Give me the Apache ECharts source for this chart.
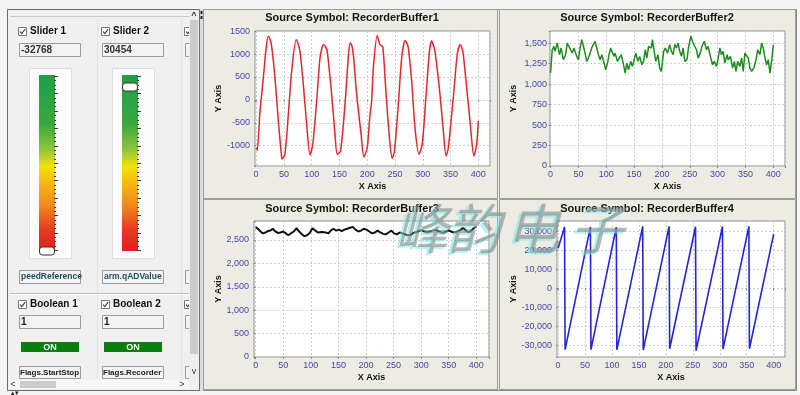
<!DOCTYPE html>
<html><head><meta charset="utf-8">
<script src="https://cdn.jsdelivr.net/npm/echarts@6/dist/echarts.min.js"></script>
<style>html,body{margin:0;padding:0;background:#f4f4f4}#c{width:800px;height:395px}</style>
</head><body><div id="c"></div>
<script>
// ---------------- DATA ----------------
const chartTitles = ['Source Symbol: RecorderBuffer1','Source Symbol: RecorderBuffer2','Source Symbol: RecorderBuffer3','Source Symbol: RecorderBuffer4'];
const xTickStep = 50;
const yTickSteps = [500, 250, 500, 10000];

const buffer1 = [[0,-1050],[2,-1100],[7,-247],[13,479],[18,1133],[22,1388],[25,1330],[28,1170],[34,479],[40,-465],[46,-1264],[47,-1290],[52,-1176],[58,-319],[64,625],[72,1314],[75,1250],[79,1060],[85,334],[91,-537],[97,-1206],[102,-973],[109,-29],[115,915],[121,1205],[124,1180],[128,1060],[136,116],[142,-755],[146,-1191],[152,-1118],[160,-101],[165,770],[169,1242],[172,1200],[175,988],[181,116],[189,-755],[194,-1249],[200,-1046],[205,-319],[208,-29],[211,697],[218,1409],[223,1205],[228,1160],[234,116],[240,-828],[245,-1279],[249,-1126],[256,-101],[262,915],[268,1293],[271,1250],[274,1133],[280,407],[286,-610],[293,-1191],[299,-973],[306,116],[312,1060],[316,1293],[319,1200],[322,1060],[331,116],[337,-682],[342,-1227],[346,-1046],[352,-319],[356,189],[362,988],[367,1205],[370,1150],[373,988],[379,261],[385,-465],[392,-1227],[397,-973],[400,-465]];

const buffer2 = [[0,1136],[3,1421],[6,1463],[8,1401],[12,1503],[16,1360],[19,1442],[23,1299],[27,1360],[30,1503],[33,1463],[36,1421],[39,1380],[42,1442],[47,1340],[50,1299],[53,1442],[56,1544],[59,1463],[62,1380],[65,1279],[68,1320],[71,1380],[75,1463],[80,1524],[83,1442],[86,1360],[89,1299],[92,1360],[97,1238],[99,1176],[103,1279],[105,1360],[108,1442],[110,1401],[114,1340],[116,1380],[120,1279],[123,1299],[127,1360],[131,1238],[134,1136],[137,1258],[140,1176],[144,1279],[147,1217],[151,1320],[153,1380],[157,1279],[160,1340],[164,1238],[167,1279],[170,1421],[173,1320],[176,1463],[181,1442],[183,1544],[186,1401],[189,1279],[193,1360],[196,1197],[199,1156],[203,1401],[206,1442],[210,1380],[214,1483],[217,1401],[220,1360],[223,1483],[226,1442],[229,1503],[232,1401],[235,1340],[238,1442],[241,1279],[245,1299],[248,1463],[252,1585],[256,1503],[259,1524],[262,1421],[265,1320],[269,1380],[272,1463],[276,1524],[280,1421],[283,1463],[287,1340],[291,1238],[294,1279],[298,1217],[301,1320],[304,1442],[307,1360],[310,1401],[313,1258],[317,1360],[319,1299],[323,1340],[327,1197],[330,1279],[333,1156],[336,1279],[340,1217],[343,1320],[346,1156],[349,1380],[352,1401],[355,1320],[358,1197],[361,1156],[365,1197],[369,1299],[372,1421],[376,1360],[379,1503],[382,1442],[385,1320],[388,1238],[391,1299],[394,1136],[397,1279],[400,1480]];

const buffer3 = [[0,2773],[4,2740],[9,2680],[13,2640],[18,2660],[22,2690],[27,2700],[31,2740],[35,2690],[40,2650],[45,2660],[50,2680],[55,2640],[59,2600],[64,2640],[69,2680],[74,2750],[79,2680],[84,2620],[88,2580],[93,2600],[98,2650],[103,2750],[108,2700],[113,2660],[120,2670],[127,2660],[132,2640],[136,2700],[141,2740],[146,2700],[151,2720],[156,2690],[161,2720],[166,2740],[171,2760],[176,2780],[181,2720],[186,2680],[191,2700],[196,2740],[201,2720],[206,2680],[211,2640],[216,2660],[221,2700],[226,2660],[231,2630],[236,2620],[241,2660],[246,2700],[251,2640],[256,2620],[261,2660],[266,2640],[271,2620],[276,2600],[281,2610],[286,2650],[291,2670],[296,2690],[301,2710],[306,2680],[311,2660],[316,2680],[321,2700],[326,2720],[331,2690],[336,2660],[341,2650],[346,2690],[351,2700],[356,2670],[361,2660],[366,2680],[371,2710],[376,2760],[381,2700],[386,2660],[391,2700],[396,2760],[400,2790]];

const buffer4 = [[0,21000],[12,32100],[13,-32300],[60,32200],[61,-32300],[108,32100],[109,-32400],[157,32500],[158,-32500],[206,32500],[207,-31800],[255,32300],[256,-32800],[305,32400],[306,-32000],[354,32500],[355,-31800],[400,28400]];

// left panel widgets
const sliderNames = ['Slider 1','Slider 2'];
const sliderValues = [-32768, 30454];
const sliderSymbols = ['peedReference','arm.qADValue'];
const boolNames = ['Boolean 1','Boolean 2'];
const boolValues = ['1','1'];
const boolStates = ['ON','ON'];
const boolSymbols = ['Flags.StartStop','Flags.Recorder'];
const watermarkChars = ['峰','韵','电','子'];

// ---------------- LAYOUT ----------------
const FONT = '"Liberation Sans", Arial, sans-serif';
const grids = [
  {left:255, top:31, width:235, height:135},
  {left:550, top:31, width:235, height:135},
  {left:254, top:221, width:235, height:136},
  {left:557, top:221, width:228, height:136}
];
const xRanges = [[-2,421],[-1,421],[-3,423],[-2,421]];
const yRanges = [[-1445,1505],[0,1650],[0,2905],[-36150,35300]];
const yCommas = [false,true,true,true];
const yNameGaps = [31,32,30,38];
const yLabelMargins = [5,3,5,5];
const titlePos = [[352,18],[647,18],[352,209],[647,209]];
const lineColors = ['#e3262b','#1f8c1f','#111111','#2424e0'];
const lineWidths = [1.5,1.5,2,1.6];
const seriesData = [buffer1, buffer2, buffer3, buffer4];
const watermarkX = [422, 474, 533, 597];

function fmt(v, step, commas){
  if (Math.abs(v % step) > 1e-9) return '';
  return commas ? echarts.format.addCommas(v) : String(v);
}

const grid = grids.map(g => Object.assign({show:true, backgroundColor:'#ffffff', borderColor:'#8c8c8c', borderWidth:1, containLabel:false, outerBoundsMode:'none', z:5}, g));
const labelColor = '#4646aa';
const xAxis = grids.map((g,i) => ({
  gridIndex:i, type:'value', min:xRanges[i][0], max:xRanges[i][1],
  minInterval:xTickStep, maxInterval:xTickStep, z:5,
  axisLine:{show:false}, axisTick:{show:true, length:2, lineStyle:{color:'#888'}},
  axisLabel:{color:labelColor, fontSize:9, fontFamily:FONT, margin:4, formatter:v=>fmt(v,xTickStep,false)},
  splitLine:{show:true, lineStyle:{color:'#cdcdcd', type:[2,2], width:1}},
  name:'X Axis', nameLocation:'middle', nameGap:16,
  nameTextStyle:{fontWeight:'bold', fontSize:9, color:'#111', fontFamily:FONT}
}));
const yAxis = grids.map((g,i) => ({
  gridIndex:i, type:'value', min:yRanges[i][0], max:yRanges[i][1],
  minInterval:yTickSteps[i], maxInterval:yTickSteps[i], z:5,
  axisLine:{show:false}, axisTick:{show:true, length:2, lineStyle:{color:'#888'}},
  axisLabel:{color:labelColor, fontSize:9, fontFamily:FONT, margin:yLabelMargins[i], formatter:v=>fmt(v,yTickSteps[i],yCommas[i])},
  splitLine:{show:true, lineStyle:{color:'#cdcdcd', type:[2,2], width:1}},
  name:'Y Axis', nameLocation:'middle', nameGap:yNameGaps[i],
  nameTextStyle:{fontWeight:'bold', fontSize:9, color:'#111', fontFamily:FONT}
}));
const series = seriesData.map((d,i) => ({
  type:'line', xAxisIndex:i, yAxisIndex:i, data:d, symbol:'none', showSymbol:false,
  smooth: i===0 ? 0.25 : false, z:6,
  lineStyle:{color:lineColors[i], width:lineWidths[i]}, animation:false
}));

// ---------------- GRAPHIC (UI chrome) ----------------
const G = [];
function rect(x,y,w,h,fill,stroke,z,r){ G.push({type:'rect', silent:true, z:z||1, shape:{x:x,y:y,width:w,height:h,r:r||0}, style:{fill:fill||'none', stroke:stroke||null, lineWidth:1}}); }
function line(x1,y1,x2,y2,stroke,z,w){ G.push({type:'line', silent:true, z:z||1, shape:{x1:x1,y1:y1,x2:x2,y2:y2}, style:{stroke:stroke, lineWidth:w||1}}); }
function text(x,y,t,font,fill,align,z,extra){ G.push({type:'text', silent:true, z:z||2, style:Object.assign({text:t, x:x, y:y, font:font, fill:fill, textAlign:align||'left', textVerticalAlign:'middle', verticalAlign:'middle'}, extra||{})}); }
function checkbox(x,y){ rect(x+0.5,y+0.5,8,8,'#ffffff','#7a7a7a',2); G.push({type:'polyline', silent:true, z:3, shape:{points:[[x+2,y+4.5],[x+3.8,y+6.6],[x+7.2,y+2]]}, style:{stroke:'#333', lineWidth:1.1, fill:'none'}}); }

// backgrounds
rect(0,0,800,395,'#f4f4f4',null,0);
rect(7.5,9.5,192,381,'#f0f0f0','#6a6a6a',0);
line(10,16.5,190,16.5,'#c8c8c8',1);
// chart area
rect(203.5,9.5,593,381,'#edece4','#8a8a8a',0);
rect(203.5,9.5,294,189,'#edece4','#9c9c9c',1);
rect(499.5,9.5,296,189,'#edece4','#9c9c9c',1);
rect(203.5,199.5,294,190,'#edece4','#9c9c9c',1);
rect(499.5,199.5,296,190,'#edece4','#9c9c9c',1);
// splitter
rect(200,9,3,382,'#dcdcdc',null,1);
rect(200.5,11,2,3,'#222',null,2);
rect(200.5,16,2,3,'#222',null,2);

// column separators
line(97.5,20,97.5,378,'#e2e2e2',1);
line(181.5,20,181.5,378,'#e2e2e2',1);
line(10,293.5,189,293.5,'#bdbdbd',1);
line(10,294.5,189,294.5,'#ffffff',1);

const BOLD10 = 'bold 10px ' + FONT;
const grad = new echarts.graphic.LinearGradient(0,0,0,1,[
  {offset:0,color:'#1e9e4c'},{offset:0.28,color:'#3aa83e'},{offset:0.42,color:'#8cc43a'},
  {offset:0.52,color:'#f2e20c'},{offset:0.62,color:'#f7b412'},{offset:0.74,color:'#f28a1a'},
  {offset:0.88,color:'#e63a22'},{offset:1,color:'#e01e1e'}]);
const cols = [18, 101, 184];
cols.forEach((bx, c) => {
  const full = c < 2;
  const bw = full ? 61 : 6;
  checkbox(bx,27);
  rect(bx+1.5,43.5,bw,13,'#f3f3f3','#9a9a9a',2);
  rect(bx+1.5,270.5,bw,13,'#f3f3f3','#9a9a9a',2);
  checkbox(bx,300);
  rect(bx+1.5,315.5,bw,13,'#f3f3f3','#9a9a9a',2);
  rect(bx+1.5,366.5,bw,12,'#f3f3f3','#9a9a9a',2);
  if (!full) return;
  text(bx+12,31.5,sliderNames[c],BOLD10,'#111');
  text(bx+3,50,String(sliderValues[c]),'bold 10px ' + FONT,'#333');
  rect(bx+11.5,68.5,42,190,'#fbfbfb','#dedede',1);
  G.push({type:'rect', silent:true, z:2, shape:{x:bx+21,y:75,width:16,height:176}, style:{fill:grad}});
  for (let k=0;k<=40;k++){
    const yy = Math.round(76 + k*4.35) + 0.5;
    line(bx+36, yy, bx+(k%4===0?40:38), yy, '#3a3a3a', 3);
  }
  const ty = 251 - (sliderValues[c]+32768)/65535*170;
  rect(bx+21.5, ty-4, 15, 8, '#ffffff', '#333333', 4, 3);
  text(bx+3,277,sliderSymbols[c],'bold 8.5px ' + FONT,'#1e4e5e');
  text(bx+12,304.5,boolNames[c],BOLD10,'#111');
  text(bx+3,322,boolValues[c],BOLD10,'#222');
  rect(bx+3,342,58,10,'#0c7e0c',null,2);
  text(bx+32,347.5,boolStates[c],'bold 9px ' + FONT,'#ffffff','center');
  text(bx+2,372.5,boolSymbols[c],'bold 8px ' + FONT,'#1a1a1a');
});
// vertical scrollbar
rect(189,10,10,370,'#eeeeee',null,5);
rect(190,20,8,334,'#cbcbcb',null,6);
text(194,16,'^','bold 9px ' + FONT,'#333','center',6);
text(194,372,'v','9px ' + FONT,'#333','center',6);
// horizontal scrollbar
rect(10,380,179,9,'#f6f6f6',null,5);
rect(20,381,36,7,'#cbcbcb',null,6);
text(13,384.5,'<','9px ' + FONT,'#333','center',6);
text(182,384.5,'>','9px ' + FONT,'#333','center',6);
text(15,393,'▴▾','7px ' + FONT,'#222','center',6);

// chart titles
chartTitles.forEach((t,i) => text(titlePos[i][0], titlePos[i][1], t, 'bold 11px ' + FONT, '#151515', 'center', 8));

// watermark: cyan offset copy underneath, gray copy on top
watermarkChars.forEach((ch,i) => text(watermarkX[i]-3, 230, ch, 'italic 54px "Noto Sans CJK SC"', 'rgba(120,232,232,0.55)', 'center', 39));
watermarkChars.forEach((ch,i) => text(watermarkX[i], 228, ch, 'italic 54px "Noto Sans CJK SC"', 'rgba(135,135,135,0.6)', 'center', 40));

const chart = echarts.init(document.getElementById('c'), null, {renderer:'canvas', width:800, height:395});
chart.setOption({
  animation:false,
  backgroundColor:'#f4f4f4',
  grid: grid, xAxis: xAxis, yAxis: yAxis, series: series,
  graphic: {elements: G}
});
</script></body></html>
